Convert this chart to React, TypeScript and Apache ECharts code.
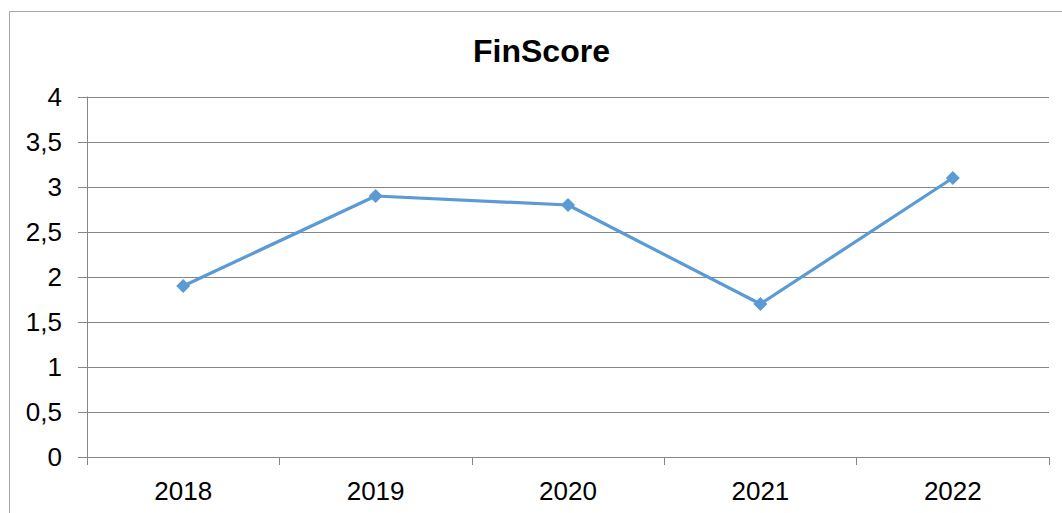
import React, { useEffect, useRef } from "react";
import * as echarts from "echarts";

const categories = ["2018", "2019", "2020", "2021", "2022"];
const finScore = [1.9, 2.9, 2.8, 1.7, 3.1];
const yTicks = { min: 0, max: 4, interval: 0.5 };

export default function App() {
  const ref = useRef<HTMLDivElement>(null);
  useEffect(() => {
    if (!ref.current) return;
    const chart = echarts.init(ref.current, null, { renderer: "svg" });
    const font = "'Liberation Sans', Arial, sans-serif";
    chart.setOption({
      animation: false,
      backgroundColor: "#ffffff",
      title: {
        text: "FinScore",
        left: 468,
        top: 30,
        textStyle: { fontFamily: font, fontSize: 32, fontWeight: "bold", color: "#000" },
      },
      graphic: [
        {
          type: "rect",
          shape: { x: 9.5, y: 11.5, width: 1200, height: 700 },
          style: { fill: "none", stroke: "#a6a6a6", lineWidth: 1 },
          silent: true,
        },
      ],
      grid: { left: 87, right: 13, top: 97, bottom: 56, containLabel: false },
      xAxis: {
        type: "category",
        data: categories,
        boundaryGap: true,
        axisLine: { show: true, lineStyle: { color: "#868686", width: 1 } },
        axisTick: { show: true, length: 8, inside: false, lineStyle: { color: "#868686" } },
        axisLabel: { fontFamily: font, fontSize: 26, color: "#000", margin: 21 },
        splitLine: { show: false },
      },
      yAxis: {
        type: "value",
        min: yTicks.min,
        max: yTicks.max,
        interval: yTicks.interval,
        axisLine: { show: true, lineStyle: { color: "#868686", width: 1 } },
        axisTick: { show: true, length: 9, inside: false, lineStyle: { color: "#868686" } },
        axisLabel: {
          fontFamily: font,
          fontSize: 26,
          color: "#000",
          margin: 25,
          formatter: (v: number) => String(v).replace(".", ","),
        },
        splitLine: { show: true, lineStyle: { color: "#868686", width: 1 } },
      },
      series: [
        {
          type: "line",
          data: finScore,
          symbol: "diamond",
          symbolSize: 14,
          lineStyle: { color: "#5b9bd5", width: 3.2 },
          itemStyle: { color: "#5b9bd5" },
        },
      ],
    });
    return () => chart.dispose();
  }, []);
  return (
    <div
      ref={ref}
      style={{ position: "fixed", left: 0, top: 0, width: 1062, height: 513 }}
    />
  );
}
